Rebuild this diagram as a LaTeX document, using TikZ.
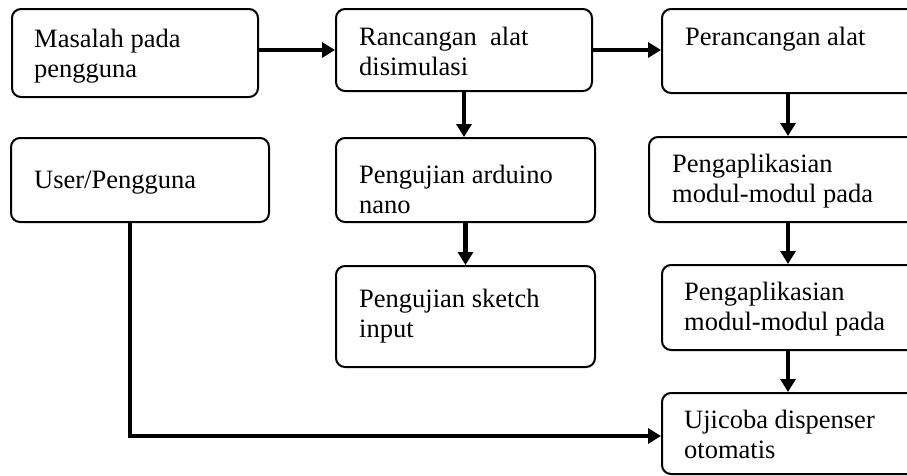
\documentclass[tikz,border=0pt]{standalone}
\usepackage{fontspec}
\setmainfont{Liberation Serif}
\usetikzlibrary{arrows.meta,calc}
\begin{document}
\begin{tikzpicture}[x=1pt,y=-1pt,
  box/.style={draw=black,line width=2pt,rounded corners=9pt,anchor=north west,inner sep=0pt},
  txt/.style={anchor=base west,inner sep=0pt,align=left,font=\fontsize{26.5}{29.5}\selectfont},
  arr/.style={line width=4.5pt,-{Triangle[length=13pt,width=15pt]}},
  ln/.style={line width=4.5pt}]
\useasboundingbox (0,0) rectangle (907,475);
\clip (0,0) rectangle (907,475);
\fill[white] (0,0) rectangle (907,475);
% boxes
\node[box,minimum width=246pt,minimum height=88pt] (b1) at (11,8) {};
\node[box,minimum width=256pt,minimum height=82pt] (b2) at (335,8) {};
\node[box,minimum width=300pt,minimum height=84pt] (b3) at (661,8) {};
\node[box,minimum width=258pt,minimum height=84pt] (u) at (10,137) {};
\node[box,minimum width=259pt,minimum height=84pt] (p1) at (335,137) {};
\node[box,minimum width=259pt,minimum height=101pt] (p2) at (335,265) {};
\node[box,minimum width=300pt,minimum height=85pt] (m1) at (648,136) {};
\node[box,minimum width=300pt,minimum height=85pt] (m2) at (661,264) {};
\node[box,minimum width=300pt,minimum height=81pt] (uj) at (661,392) {};
% texts (base anchor = baseline of the last line)
\node[txt] (t1) at (34,77) {Masalah pada\\pengguna};
\node[txt] (t2) at (359,75) {Rancangan\ \ alat\\disimulasi};
\node[txt] (t3) at (685,45) {Perancangan alat};
\node[txt] (t4) at (34,188) {User/Pengguna};
\node[txt] (t5) at (359,213) {Pengujian arduino\\nano};
\node[txt] (t6) at (359,337) {Pengujian sketch\\input};
\node[txt] (t7) at (672,202) {Pengaplikasian\\modul-modul pada};
\node[txt] (t8) at (684,330) {Pengaplikasian\\modul-modul pada};
\node[txt] (t9) at (684,458) {Ujicoba dispenser\\otomatis};
% connector helpers
\coordinate (rc) at (788,0);
\coordinate (ux) at (130,0);
% connectors
\draw[arr] (b1.east |- b2.west) -- (b2.west);
\draw[arr] (b2.east) -- (b2.east -| b3.west);
\draw[arr] (b2.south) -- (b2.south |- p1.north);
\draw[arr] (p1.south) -- (p1.south |- p2.north);
\draw[arr] (b3.south -| rc) -- (m1.north -| rc);
\draw[arr] (m1.south -| rc) -- (m2.north -| rc);
\draw[arr] (m2.south -| rc) -- (uj.north -| rc);
\draw[arr] (u.south -| ux) |- ($(uj.west)+(0,2.5)$);
\end{tikzpicture}
\end{document}
